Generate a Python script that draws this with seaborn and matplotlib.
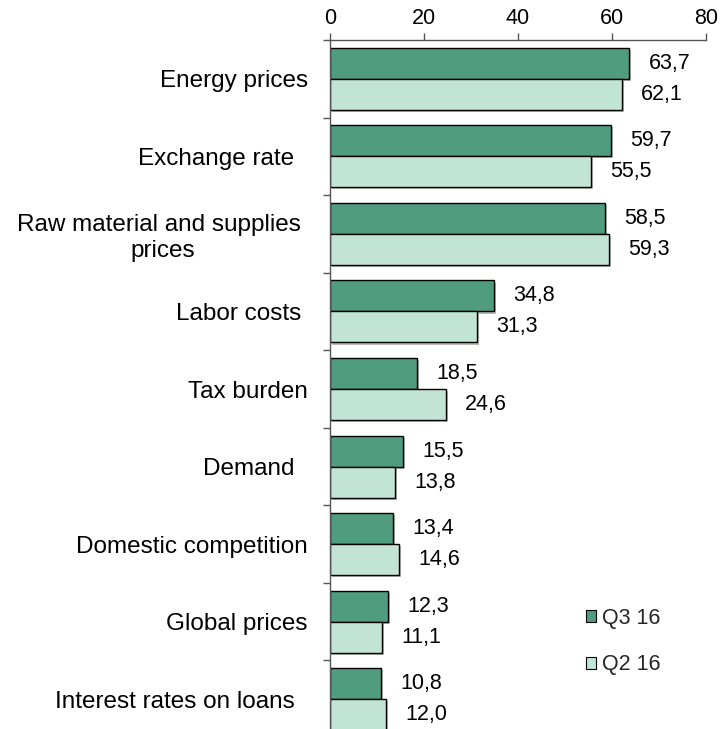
import matplotlib
matplotlib.use("Agg")
import matplotlib.pyplot as plt
import matplotlib.patheffects as pe
from matplotlib.patches import Patch
import seaborn as sns
import pandas as pd
import numpy as np

categories = [
    "Energy prices",
    "Exchange rate  ",
    "Raw material and supplies \nprices",
    "Labor costs ",
    "Tax burden",
    "Demand  ",
    "Domestic competition",
    "Global prices",
    "Interest rates on loans  ",
]
q3_16 = [63.7, 59.7, 58.5, 34.8, 18.5, 15.5, 13.4, 12.3, 10.8]
q2_16 = [62.1, 55.5, 59.3, 31.3, 24.6, 13.8, 14.6, 11.1, 12.0]
series = ["Q3 16", "Q2 16"]
colors = ["#4f9c80", "#c2e4d6"]
x_ticks = [0, 20, 40, 60, 80]

df = pd.DataFrame({
    "factor": categories * 2,
    "share": q3_16 + q2_16,
    "period": [series[0]] * len(categories) + [series[1]] * len(categories),
})

sns.set_theme(style="white")
plt.rcParams["font.family"] = ["Liberation Sans", "DejaVu Sans"]

fig = plt.figure(figsize=(7.22, 7.29), dpi=100)
ax = fig.add_axes([330 / 722, 1 - 738 / 729, 376 / 722, 698 / 729])

sns.barplot(
    data=df, y="factor", x="share", hue="period", hue_order=series,
    palette=colors, saturation=1, orient="h", width=0.8, gap=0, ax=ax,
    edgecolor="black", linewidth=1.0, legend=False,
)

shadow = [pe.SimplePatchShadow(offset=(1.5, -1.5), shadow_rgbFace="#8a8a8a", alpha=0.6), pe.Normal()]
for cont in ax.containers:
    for bar in cont:
        bar.set_path_effects(shadow)
    ax.bar_label(cont, labels=[f"{b.get_width():.1f}".replace(".", ",") for b in cont],
                 padding=14, fontsize=15.5, color="black")

ax.set_xlim(0, 80)
ax.set_ylim(len(categories) - 0.5, -0.5)
ax.xaxis.tick_top()
ax.set_xticks(x_ticks)
ax.tick_params(axis="x", which="major", direction="out", length=5, width=1,
               color="#555555", labelsize=15.5, labelcolor="black", pad=3, top=True, bottom=False)
ax.tick_params(axis="y", which="major", length=0, labelsize=17.5, labelcolor="black", pad=16)
ax.set_yticks(np.arange(-0.5, len(categories), 1.0), minor=True)
ax.tick_params(axis="y", which="minor", direction="out", length=5, width=1, color="#555555", left=True)
for lbl in ax.get_yticklabels():
    lbl.set_multialignment("center")
ax.set_xlabel("")
ax.set_ylabel("")

for side in ["right", "bottom"]:
    ax.spines[side].set_visible(False)
for side in ["top", "left"]:
    ax.spines[side].set_visible(True)
    ax.spines[side].set_color("#555555")
    ax.spines[side].set_linewidth(1)

handles = [Patch(facecolor=c, edgecolor="black", linewidth=0.8) for c in colors]
fig.legend(handles, series, loc="upper left", bbox_to_anchor=(577 / 722, 1 - 599 / 729),
           frameon=False, fontsize=15.5, handlelength=0.5, handleheight=0.5,
           handletextpad=0.25, labelspacing=1.2, borderaxespad=0)

fig.savefig("out.png", dpi=100)
